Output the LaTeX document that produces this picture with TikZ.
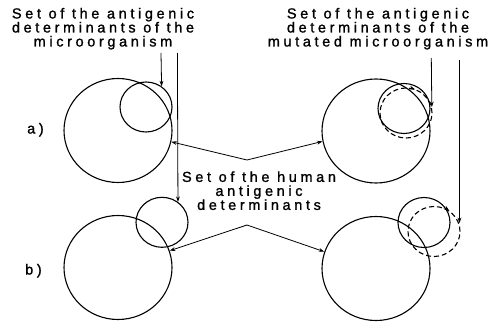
\documentclass[tikz,border=0pt]{standalone}
\usepackage{fontspec}
\setmainfont{Liberation Sans}[LetterSpace=25,FakeBold=1.2]
\usetikzlibrary{arrows.meta,shapes.geometric}
\begin{document}
\begin{tikzpicture}[x=1pt,y=-1pt,
  bigc/.style={draw, ellipse, line width=1.1pt, minimum width=108pt, minimum height=104pt, inner sep=0pt},
  smallc/.style={draw, ellipse, line width=1.1pt, minimum width=52pt, minimum height=50pt, inner sep=0pt},
  dashc/.style={smallc, dash pattern=on 5pt off 3pt},
  arr/.style={line width=0.8pt, -{Stealth[length=5.5pt,width=3.8pt]}},
  lbl/.style={align=center, inner sep=0pt, font=\fontsize{14.5}{14}\selectfont}]
\useasboundingbox (0,0) rectangle (492,321);
% circles
\node[bigc] (AL) at (118,130.5) {};
\node[smallc] (ALs) at (146,107) {};
\node[bigc] (AR) at (376,131) {};
\node[smallc] (ARs) at (404,108.5) {};
\node[dashc] (ARd) at (406,113) {};
\node[bigc] (BL) at (118,267.5) {};
\node[smallc] (BLs) at (162,222.3) {};
\node[bigc] (BR) at (376,268.5) {};
\node[smallc] (BRs) at (424,222.5) {};
\node[dashc] (BRd) at (434,231.5) {};
% labels
\node[lbl] (tl) at (103,28.7) {Set of the antigenic\\determinants of the\\microorganism};
\node[lbl] (tr) at (378,28.7) {Set of the antigenic\\determinants of the\\mutated microorganism};
\node[lbl] (hu) at (259,190.7) {Set of the human\\antigenic\\determinants};
\node[lbl, anchor=base west] (la) at (27,133.5) {a)};
\node[lbl, anchor=base west] (lb) at (25,274.5) {b)};
% label arrows
\coordinate (s1) at (161,53);
\coordinate (s2) at (177.4,53);
\coordinate (s3) at (431.3,58);
\coordinate (s4) at (459.5,60);
\coordinate (e4) at (459.5,223);
\draw[arr] (s1) -- (ALs.53.8);
\draw[arr] (s2) -- (BLs.52.6);
\draw[arr] (s3) -- (ARd.13);
\draw[arr] (s4) -- (e4);
% human set connectors
\coordinate (hTop) at (247,160);
\coordinate (hBot) at (247,225);
\draw[arr] (hTop) -- (AL.-12.9);
\draw[arr] (hTop) -- (AR.191.6);
\draw[arr] (hBot) -- (BL.18.6);
\draw[arr] (hBot) -- (BR.162.6);
% shift arrows on dashed circles
\draw[arr] (411.1,88.0) -- (414.9,89.3);
\draw[arr] (445.9,208.1) -- (449.1,210.5);
\end{tikzpicture}
\end{document}
